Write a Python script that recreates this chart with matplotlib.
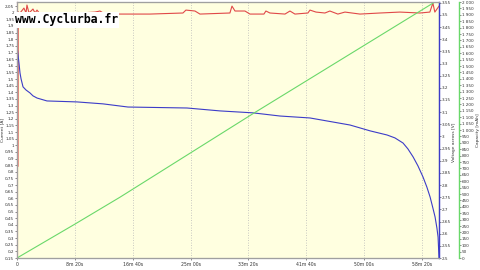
import matplotlib
matplotlib.use("Agg")
from matplotlib import pyplot as plt
from matplotlib.ticker import FixedLocator, FuncFormatter
import numpy as np

# discharge log, times in seconds
voltage_t = [0, 4, 9, 17, 26, 35, 52, 78, 112, 138, 173, 259, 519, 743, 959,
             1469, 1755, 2040, 2273, 2532, 2878, 3051, 3198, 3266, 3336, 3378,
             3423, 3465, 3509, 3542, 3570, 3594, 3613, 3629, 3639, 3647]
voltage_v = [3.377, 3.356, 3.335, 3.302, 3.261, 3.237, 3.204, 3.191, 3.179,
             3.167, 3.158, 3.146, 3.142, 3.134, 3.121, 3.117, 3.105, 3.097,
             3.084, 3.076, 3.047, 3.023, 3.006, 2.994, 2.973, 2.949, 2.916,
             2.879, 2.833, 2.792, 2.751, 2.706, 2.669, 2.623, 2.586, 2.50]

current_t = [0, 2, 26, 60, 78, 86, 104, 138, 156, 173, 199, 372, 544, 674,
             717, 760, 1149, 1434, 1460, 1538, 1581, 1840, 1858, 1884, 1970,
             2013, 2134, 2151, 2186, 2316, 2359, 2402, 2514, 2532, 2584, 2661,
             2704, 2773, 2834, 2964, 3136, 3309, 3482, 3568, 3594, 3611, 3647]
current_a = [0.85, 2.0, 1.998, 2.035, 1.998, 2.058, 1.998, 2.028, 1.998,
             2.02, 1.99, 1.99, 1.998, 2.005, 2.013, 1.99, 1.99, 1.998, 2.02,
             2.013, 1.99, 1.998, 2.05, 2.013, 2.013, 1.99, 1.99, 2.013, 1.998,
             1.99, 2.013, 1.99, 1.998, 2.02, 2.005, 1.998, 2.013, 1.99, 2.005,
             1.99, 1.998, 2.005, 1.998, 2.005, 2.073, 2.005, 2.05]

capacity_t = [0, 501, 890, 2040, 3647]
capacity_mah = [0, 265, 475, 1128, 2020]

x_ticks = [0, 500, 1000, 1500, 2000, 2500, 3000, 3500]

W, H = 480, 270
fig = plt.figure(figsize=(4.8, 2.7), dpi=100)
ax = fig.add_axes([17 / W, 1 - 258 / H, (439 - 17) / W, 256 / H])
ax.set_facecolor("#ffffe0")

ax2 = ax.twinx()
ax3 = ax.twinx()
ax3.spines["right"].set_position(("axes", (459 - 17) / (439 - 17)))

ax.plot(current_t, current_a, color="#e04848", lw=0.8)
ax.plot(current_t[:2], current_a[:2], color="#e04848", lw=2.2)
ax2.plot(voltage_t, voltage_v, color="#3c3cc8", lw=0.8)
ax3.plot(capacity_t, capacity_mah, color="#6ad86a", lw=0.8)

ax.set_xlim(0, 3647)
ax.set_ylim(0.15, 2.081)
ax2.set_ylim(2.5, 3.553)
ax3.set_ylim(0, 2000)

def fmt_time(v, pos):
    if v == 0:
        return "0"
    v = int(round(v))
    return f"{v // 60}m {v % 60:02d}s"

ax.xaxis.set_major_locator(FixedLocator(x_ticks))
ax.xaxis.set_major_formatter(FuncFormatter(fmt_time))
ax.grid(axis="x", color="#b8b8b8", ls=(0, (1, 2)), lw=0.6)

ax.yaxis.set_major_locator(FixedLocator(np.arange(0.15, 2.051, 0.05)))
ax.yaxis.set_major_formatter(FuncFormatter(lambda v, p: f"{v:.2f}".rstrip("0").rstrip(".").replace(".", ",")))
ax2.yaxis.set_major_locator(FixedLocator(np.arange(2.5, 3.551, 0.05)))
ax2.yaxis.set_major_formatter(FuncFormatter(lambda v, p: f"{v:.2f}".rstrip("0").rstrip(".")))
ax3.yaxis.set_major_locator(FixedLocator(np.arange(0, 2001, 50)))
ax3.yaxis.set_major_formatter(FuncFormatter(lambda v, p: f"{int(round(v)):,}".replace(",", " ")))

for a in (ax, ax2, ax3):
    a.tick_params(labelsize=3.0, length=1.2, width=0.4, pad=0.8, colors="#333333")
    for s in a.spines.values():
        s.set_color("#a0a0a0")
        s.set_linewidth(0.8)
ax.tick_params(axis="x", labelsize=3.3, pad=1.5)

ax.spines["left"].set_color("#e04848")
ax2.spines["right"].set_color("#3c3cc8")
ax2.spines["right"].set_linewidth(1.0)
ax3.spines["right"].set_color("#6ad86a")
ax3.spines["right"].set_linewidth(1.0)

ax.set_ylabel("Current [A]", fontsize=3.2, color="#333333")
ax.yaxis.set_label_coords((4.8 - 17) / 422, 0.5)
ax2.set_ylabel("Voltage across [V]", fontsize=3.2, color="#333333")
ax2.yaxis.set_label_coords((452.5 - 17) / 422, 0.45)
ax3.set_ylabel("Capacity [mAh]", fontsize=3.2, color="#333333")
ax3.yaxis.set_label_coords((475.5 - 17) / 422, 0.5)

fig.text(15 / W, 1 - 23.5 / H, "www.Cyclurba.fr", fontsize=8.3,
         family="DejaVu Sans Mono", weight="bold", color="black",
         va="baseline", ha="left",
         bbox=dict(facecolor="white", edgecolor="none", pad=0.8))

fig.savefig("out.png", dpi=100)
